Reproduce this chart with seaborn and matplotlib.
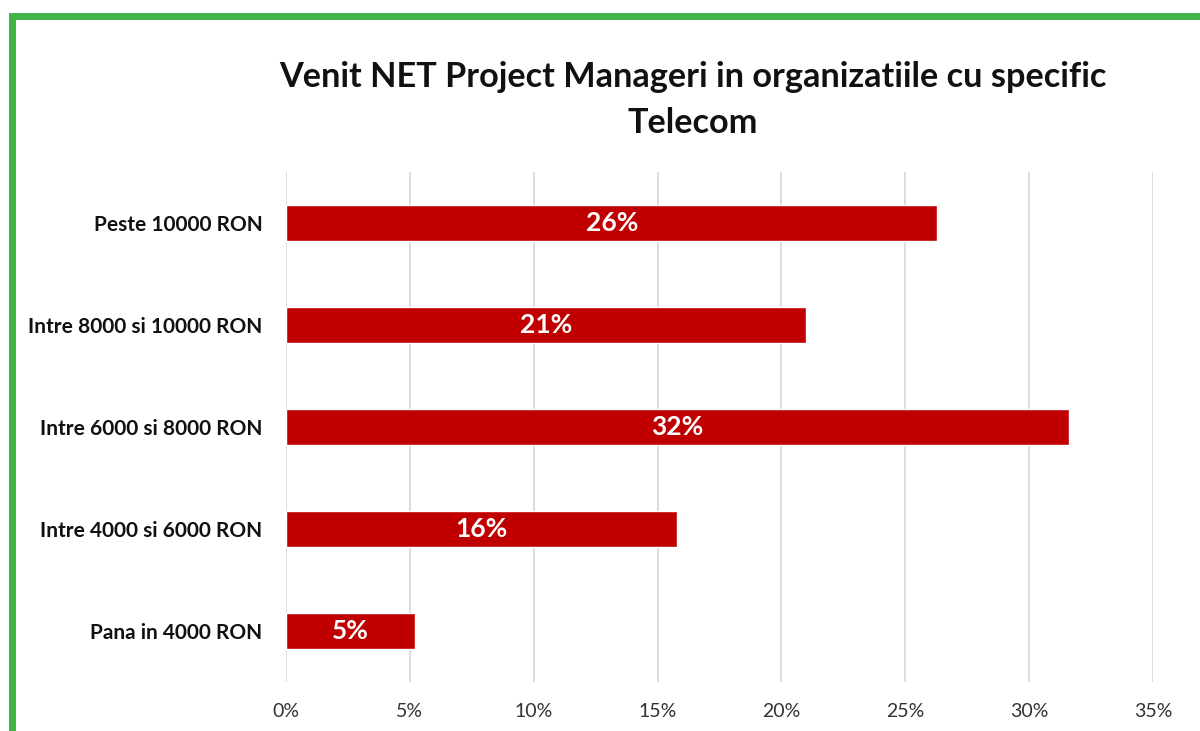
import matplotlib
matplotlib.use("Agg")
import matplotlib.pyplot as plt
import seaborn as sns
import pandas as pd
from matplotlib.patches import Rectangle
from matplotlib.ticker import FuncFormatter

categories = ["Peste 10000 RON", "Intre 8000 si 10000 RON", "Intre 6000 si 8000 RON",
              "Intre 4000 si 6000 RON", "Pana in 4000 RON"]
values = [26.3, 21.0, 31.6, 15.8, 5.2]
labels = ["26%", "21%", "32%", "16%", "5%"]
xticks = [0, 5, 10, 15, 20, 25, 30, 35]

sns.set_theme(style="white")
plt.rcParams['font.family'] = ['Lato', 'DejaVu Sans']

df = pd.DataFrame({"cat": categories, "val": values})

fig = plt.figure(figsize=(12, 7.31), dpi=100)
ax = fig.add_axes([0.2383, 0.067, 0.7225, 0.6977])
sns.barplot(data=df, y="cat", x="val", orient="h", color="#C00000",
            saturation=1, width=0.35, ax=ax)

ax.set_xlim(0, 35)
ax.set_xticks(xticks)
ax.xaxis.set_major_formatter(FuncFormatter(lambda v, p: f"{int(v)}%"))
ax.grid(axis="x", color="#d9d9d9", linewidth=1.3)
ax.set_axisbelow(True)
for s in ax.spines.values():
    s.set_visible(False)
ax.set_xlabel("")
ax.set_ylabel("")
ax.tick_params(axis="x", labelsize=14, colors="#333333", pad=15, length=0)
ax.tick_params(axis="y", labelsize=15, length=0, pad=17)
for t in ax.get_yticklabels():
    t.set_fontweight("bold")
    t.set_color("#111111")

for cont in ax.containers:
    ax.bar_label(cont, labels=labels, label_type="center", color="white",
                 fontsize=19, fontweight="bold")

fig.text(0.5775, 0.863, "Venit NET Project Manageri in organizatiile cu specific\nTelecom",
         ha="center", va="center", fontsize=24.7, fontweight="bold", color="#111111",
         linespacing=1.55)

border = Rectangle((11.5 / 1200, -0.1), 1.2, (731 - 15.5) / 731 + 0.1,
                   transform=fig.transFigure, fill=False, edgecolor="#3fb548",
                   linewidth=5, clip_on=False)
fig.patches.append(border)

fig.savefig("out.png", dpi=100)
